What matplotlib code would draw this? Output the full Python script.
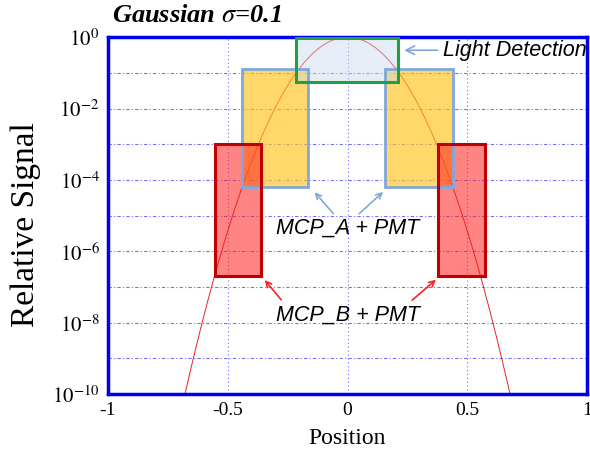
import numpy as np
import matplotlib.pyplot as plt
from matplotlib.patches import Rectangle

plt.rcParams['mathtext.fontset'] = 'stix'

# gaussian signal
SIGMA = 0.1
pos = np.linspace(-1, 1, 801)
signal = np.exp(-pos**2 / (2 * SIGMA**2))

# detector ranges: (x0, x1, y_low, y_high)
light_box = (-0.215, 0.21, 0.055, 0.95)
mcp_a_boxes = [(-0.44, -0.165, 6.3e-5, 0.126), (0.157, 0.44, 6.3e-5, 0.126)]
mcp_b_boxes = [(-0.553, -0.361, 2e-7, 1e-3), (0.378, 0.574, 2e-7, 1e-3)]

xticks = [-1, -0.5, 0, 0.5, 1]
xtick_labels = ['-1', '-0.5', '0', '0.5', '1']
yticks = [1e0, 1e-2, 1e-4, 1e-6, 1e-8, 1e-10]
ytick_labels = ['$10^{0}$', '$10^{-2}$', '$10^{-4}$', '$10^{-6}$', '$10^{-8}$', '$10^{-10}$']

fig = plt.figure(figsize=(5.9, 4.53), dpi=100)
ax = fig.add_axes([0.183, 0.130, 0.812, 0.788])

ax.plot(pos, signal, color='#ee2020', lw=0.7, zorder=2)

def box(b, fc, ec, alpha, lw):
    x0, x1, y0, y1 = b
    ax.add_patch(Rectangle((x0, y0), x1 - x0, y1 - y0, facecolor=fc, alpha=alpha,
                           edgecolor='none', zorder=3))
    ax.add_patch(Rectangle((x0, y0), x1 - x0, y1 - y0, facecolor='none',
                           edgecolor=ec, lw=lw, zorder=4))

for b in mcp_a_boxes:
    box(b, '#ffc21a', '#7fa8dc', 0.65, 2)
for b in mcp_b_boxes:
    box(b, '#ff2020', '#c00000', 0.55, 2.2)
box(light_box, '#c9d9ee', '#20a040', 0.45, 2.2)

ax.set_yscale('log')
ax.set_xlim(-1, 1)
ax.set_ylim(1e-10, 1)
ax.set_xticks(xticks)
ax.set_xticklabels(xtick_labels, family='Liberation Serif', fontsize=14)
ax.set_yticks(yticks)
ax.set_yticklabels(ytick_labels, fontsize=15)
ax.yaxis.set_minor_locator(plt.FixedLocator([10.0**k for k in range(-9, 0, 2)]))
ax.yaxis.set_minor_formatter(plt.NullFormatter())
ax.tick_params(which='both', length=0, pad=6)

ax.grid(True, axis='x', color='#7070ff', lw=0.8, ls=(0, (1, 2.5)))
ax.grid(True, axis='y', which='both', color='#7070ff', lw=0.8, ls=(0, (3, 2, 1, 2)))
ax.set_axisbelow(True)
for s in ax.spines.values():
    s.set_color('#0000ee')
    s.set_linewidth(2.5)

ax.set_xlabel('Position', family='Liberation Serif', fontsize=17, labelpad=6)
ax.set_ylabel('Relative Signal', family='Liberation Serif', fontsize=24)
ax.yaxis.set_label_coords(-0.14, 0.475)
fig.text(0.19, 0.966, r'Gaussian $\sigma$=0.1', family='Liberation Serif',
         style='italic', weight='bold', fontsize=19, va='center', ha='left')

txt = dict(family='Liberation Sans', style='italic', fontsize=15.5, zorder=6)
ax.annotate('Light Detection', xy=(0.225, 0.43), xytext=(0.4, 0.43), va='center', ha='left',
            arrowprops=dict(arrowstyle='->', color='#7fa8dc', lw=1.2), **txt)
for tx, px in [(-0.052, -0.145), (0.04, 0.157)]:
    ax.annotate('', xy=(px, 5.2e-5), xytext=(tx, 1e-5),
                arrowprops=dict(arrowstyle='->', color='#7fa8dc', lw=1.2))
ax.text(0.0, 4.5e-6, 'MCP_A + PMT', ha='center', va='center', **txt)
for tx, px in [(-0.269, -0.353), (0.261, 0.378)]:
    ax.annotate('', xy=(px, 1.8e-7), xytext=(tx, 3.8e-8),
                arrowprops=dict(arrowstyle='->', color='#ff2020', lw=1.2))
ax.text(0.0, 1.6e-8, 'MCP_B + PMT', ha='center', va='center', **txt)

fig.savefig('out.png', dpi=100)
